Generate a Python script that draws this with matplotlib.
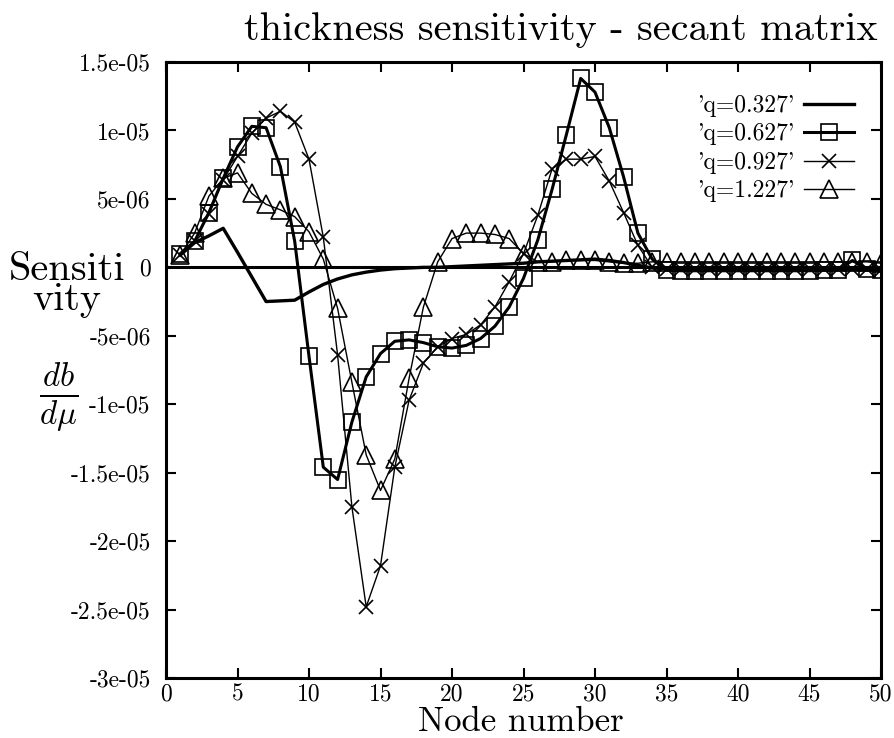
import matplotlib
matplotlib.use("Agg")
import matplotlib.pyplot as plt
import numpy as np

plt.rcParams["font.family"] = "cmr10"
plt.rcParams["mathtext.fontset"] = "cm"
plt.rcParams["axes.formatter.use_mathtext"] = True

# node index 1..50, sensitivities in units of 1e-6
nodes = np.arange(1, 51)

q0327 = [0.9, 1.8, 2.3, 2.85, 1.1, -0.7, -2.5, -2.45, -2.4, -1.8,
         -1.25, -0.85, -0.55, -0.35, -0.2, -0.1, -0.05, 0.0, 0.0, 0.05,
         0.1, 0.15, 0.2, 0.25, 0.3, 0.4, 0.45, 0.5, 0.55, 0.6,
         0.5, 0.35, 0.15, -0.05, -0.1, -0.15, -0.15, -0.15, -0.15, -0.15,
         -0.15, -0.15, -0.15, -0.15, -0.15, -0.15, -0.15, -0.15, -0.2, -0.2]

q0627 = [1.0, 1.9, 4.0, 6.5, 8.8, 10.3, 10.2, 7.35, 1.9, -6.5,
         -14.6, -15.5, -11.3, -8.0, -6.3, -5.4, -5.3, -5.5, -5.8, -5.9,
         -5.7, -5.2, -4.3, -2.9, -0.8, 2.0, 5.7, 9.7, 13.8, 12.8,
         10.2, 6.6, 2.5, 0.6, -0.2, -0.25, -0.25, -0.25, -0.25, -0.25,
         -0.25, -0.25, -0.25, -0.25, -0.25, -0.2, -0.2, 0.5, -0.1, -0.2]

q0927 = [0.9, 1.9, 3.9, 6.4, 8.1, 9.8, 10.9, 11.4, 10.6, 7.9,
         2.2, -6.4, -17.5, -24.8, -21.8, -14.6, -9.7, -7.0, -5.8, -5.2,
         -4.9, -4.2, -2.9, -1.05, 1.0, 3.8, 7.2, 7.9, 7.9, 8.1,
         6.3, 4.0, 1.6, 0.0, -0.1, -0.1, -0.1, -0.1, -0.1, -0.1,
         -0.1, -0.1, -0.1, -0.1, -0.1, -0.1, -0.1, -0.1, -0.1, -0.2]

q1227 = [0.9, 2.5, 5.2, 6.5, 6.9, 5.4, 4.6, 4.2, 3.7, 2.6,
         0.6, -3.0, -8.4, -13.7, -16.3, -14.0, -8.1, -2.9, 0.4, 2.1,
         2.5, 2.5, 2.4, 2.1, 1.0, 0.4, 0.4, 0.5, 0.5, 0.5,
         0.4, 0.3, 0.3, 0.4, 0.4, 0.4, 0.4, 0.4, 0.4, 0.4,
         0.4, 0.4, 0.4, 0.4, 0.4, 0.4, 0.4, 0.4, 0.4, 0.3]

labels = ["'q=0.327'", "'q=0.627'", "'q=0.927'", "'q=1.227'"]

yticks = [1.5e-05, 1e-05, 5e-06, 0, -5e-06, -1e-05, -1.5e-05, -2e-05, -2.5e-05, -3e-05]
ytick_labels = ["1.5e-05", "1e-05", "5e-06", "0", "-5e-06", "-1e-05",
                "-1.5e-05", "-2e-05", "-2.5e-05", "-3e-05"]
xticks = np.arange(0, 51, 5)

W, H = 894, 738
fig = plt.figure(figsize=(W / 100, H / 100), dpi=100)
ax = fig.add_axes([166 / W, 1 - 678 / H, (881 - 166) / W, (678 - 62) / H])

ax.axhline(0, color="black", lw=2.2, zorder=1)

s = 1e-6
ax.plot(nodes, np.array(q0327) * s, color="black", lw=2.4, label=labels[0])
ax.plot(nodes, np.array(q0627) * s, color="black", lw=2.2, marker="s", ms=12,
        mfc="none", mew=1.2, label=labels[1])
ax.plot(nodes, np.array(q0927) * s, color="black", lw=1.0, marker="x", ms=10,
        mew=1.2, label=labels[2])
ax.plot(nodes, np.array(q1227) * s, color="black", lw=1.0, marker="^", ms=13,
        mfc="none", mew=1.2, label=labels[3])

ax.set_xlim(0, 50)
ax.set_ylim(-3e-05, 1.5e-05)
ax.set_xticks(xticks, [str(t) for t in xticks], fontsize=17)
ax.set_yticks(yticks, ytick_labels, fontsize=17)
ax.tick_params(direction="in", length=7, width=1.5, top=True, right=True)
ax.tick_params(axis="y", pad=11)
ax.tick_params(axis="x", pad=4)
for sp in ax.spines.values():
    sp.set_linewidth(2.2)

ax.legend(loc="upper right", bbox_to_anchor=(0.982, 0.97), frameon=False,
          markerfirst=False, numpoints=1, fontsize=17, handlelength=2.1,
          labelspacing=0.27, handletextpad=0.4, borderaxespad=0.2)

fig.text(561 / W, 1 - 30 / H, "thickness sensitivity - secant matrix",
         ha="center", va="center", fontsize=29)
fig.text(521 / W, 1 - 731 / H, "Node number", ha="center", va="baseline", fontsize=25)
fig.text(67 / W, 1 - 285 / H, "Sensiti\nvity", ha="center", va="center",
         multialignment="center", linespacing=0.78, fontsize=29)
fig.text(59 / W, 1 - 398 / H, r"$\frac{db}{d\mu}$", ha="center", va="center", fontsize=34)

fig.savefig("out.png", dpi=100)
